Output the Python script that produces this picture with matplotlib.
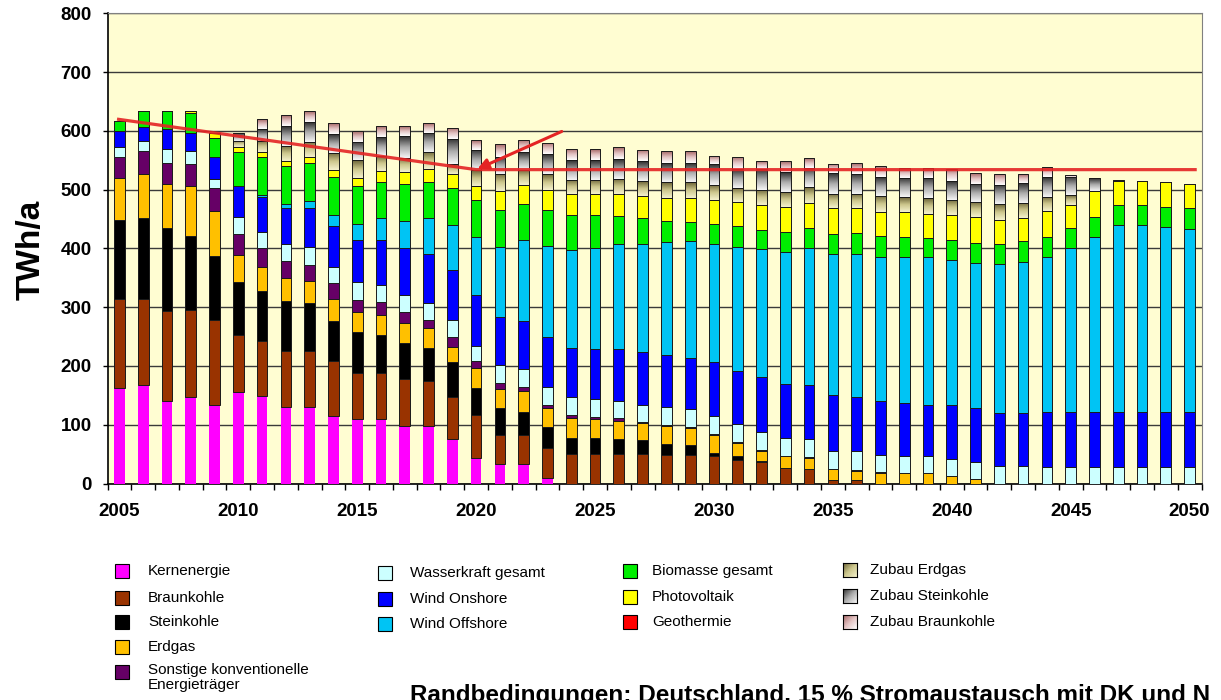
import numpy as np
import matplotlib
matplotlib.use('Agg')
import matplotlib.pyplot as plt
from matplotlib.colors import LinearSegmentedColormap
from matplotlib.patches import Rectangle

plt.rcParams['font.family'] = ['Liberation Sans', 'DejaVu Sans']

W, H = 1221, 700

years = np.arange(2005, 2051)

# TWh/a per year, 2005 .. 2050
kernenergie = [163, 167, 140, 147, 133, 156, 149, 131, 131, 114, 109, 109, 98, 98, 76, 44, 33, 33, 10] + [0] * 27
braunkohle = [151, 147, 154, 148, 145, 97, 94, 95, 94, 94, 79, 79, 79, 76, 72, 73, 50, 50, 51, 51,
              51, 51, 51, 48, 48, 47, 40, 37, 27, 24, 6, 6] + [0] * 14
steinkohle = [134, 138, 140, 126, 109, 90, 85, 85, 82, 69, 69, 65, 62, 56, 58, 46, 45, 39, 35, 27,
              27, 25, 23, 20, 17, 5, 7, 2] + [0] * 18
erdgas = [72, 75, 76, 86, 77, 46, 41, 38, 37, 37, 34, 34, 34, 34, 27, 33, 33, 35, 33, 33,
          31, 30, 29, 30, 29, 31, 22, 16, 19, 20, 18, 15, 18, 18, 18, 13, 8] + [0] * 9
sonstige = [36, 38, 36, 37, 38, 35, 32, 29, 28, 27, 21, 22, 18, 14, 17, 12, 10, 7, 5, 6,
            4, 6, 2, 2, 2, 1, 1, 2, 1, 1, 1, 2, 1] + [0] * 13
wasserkraft = [17, 17, 23, 21, 16, 29, 27, 29, 31, 28, 30, 29, 30, 29, 28, 26, 30, 30, 31, 30,
               31, 29, 29, 30, 31, 30, 32, 30, 30, 30, 30, 32, 29, 28, 28, 28, 29, 29, 29, 28,
               28, 28, 28, 28, 28, 28]
wind_onshore = [27, 24, 34, 32, 38, 54, 59, 62, 65, 69, 73, 76, 79, 84, 85, 87, 83, 82, 85, 84,
                85, 87, 90, 88, 87, 92, 90, 94, 92, 92, 95, 92, 92, 91, 88, 92, 92, 91, 91, 94,
                94, 94, 94, 94, 94, 94]
wind_offshore = [0, 0, 0, 0, 0, 0, 4, 7, 12, 19, 27, 37, 47, 60, 76, 99, 119, 139, 154, 167,
                 172, 179, 184, 193, 199, 201, 210, 218, 225, 234, 240, 244, 246, 248, 251, 247, 247, 253, 257, 264,
                 278, 298, 317, 317, 314, 311]
biomasse = [17, 28, 31, 33, 32, 57, 64, 65, 66, 64, 64, 62, 63, 62, 64, 63, 63, 61, 61, 59,
            56, 48, 43, 36, 32, 35, 36, 32, 34, 34, 34, 35, 35, 34, 32, 35, 33, 34, 35, 34,
            34, 34, 34, 34, 34, 35]
photovoltaik = [0, 0, 0, 4, 8, 8, 9, 7, 9, 13, 14, 18, 20, 22, 24, 24, 32, 32, 35, 35,
                35, 37, 38, 39, 41, 40, 41, 42, 42, 43, 44, 42, 41, 43, 42, 42, 44, 41, 40, 43,
                40, 44, 42, 41, 43, 42]
geothermie = [0] * 46
zubau_erdgas = [0] * 5 + [11, 19, 27, 26, 29, 30, 27, 24, 29, 16, 26, 29, 26, 27, 25,
                          25, 26, 25, 27, 27, 26, 24, 27, 26, 26, 25, 24, 28, 25, 26, 26, 26, 27, 26, 25,
                          17] + [0] * 5
zubau_steinkohle = [0] * 5 + [13, 20, 34, 34, 32, 31, 32, 37, 33, 43, 35, 29, 30, 33, 33,
                              34, 34, 34, 32, 32, 35, 32, 35, 34, 33, 35, 35, 32, 33, 35, 31, 31, 33, 34, 33,
                              31, 21, 2] + [0] * 3
zubau_braunkohle = [0] * 6 + [17, 18, 18, 18, 18, 18, 17, 17, 19, 17, 21, 21, 19, 19,
                              18, 20, 20, 20, 20, 15, 21, 13, 18, 17, 16, 18, 18, 17, 17, 21, 18, 19, 15, 18,
                              3] + [0] * 5

# red guide line and arrow
line_x = [2004.9, 2020.0, 2050.3]
line_y = [620, 534, 534]

red = '#E42424'

grad_olive = LinearSegmentedColormap.from_list('olive', ['#F4F1CC', '#CCC68C', '#6A6236'])
grad_grey = LinearSegmentedColormap.from_list('grey', ['#F6F6F6', '#ABABAB', '#2E2E2E'])
grad_pink = LinearSegmentedColormap.from_list('pink', ['#FFFFFF', '#E2C2C2', '#A46464'])

series = [
    ('Kernenergie', kernenergie, '#FF00FF', None),
    ('Braunkohle', braunkohle, '#993300', None),
    ('Steinkohle', steinkohle, '#000000', None),
    ('Erdgas', erdgas, '#FFC000', None),
    ('Sonstige konventionelle\nEnergieträger', sonstige, '#660066', None),
    ('Wasserkraft gesamt', wasserkraft, '#CCFFFF', None),
    ('Wind Onshore', wind_onshore, '#0000FF', None),
    ('Wind Offshore', wind_offshore, '#00C4F4', None),
    ('Biomasse gesamt', biomasse, '#00EE00', None),
    ('Photovoltaik', photovoltaik, '#FFFF00', None),
    ('Geothermie', geothermie, '#FF0000', None),
    ('Zubau Erdgas', zubau_erdgas, None, grad_olive),
    ('Zubau Steinkohle', zubau_steinkohle, None, grad_grey),
    ('Zubau Braunkohle', zubau_braunkohle, None, grad_pink),
]

fig = plt.figure(figsize=(W / 100, H / 100), dpi=100)
ax = fig.add_axes([107.5 / W, 1 - 483.5 / H, 1094 / W, 470.2 / H])
ax.set_facecolor('#FFFDD2')

vgrad = np.linspace(0, 1, 64).reshape(-1, 1)
bottom = np.zeros(len(years))
for name, vals, color, cmap in series:
    vals = np.array(vals, dtype=float)
    if cmap is None:
        ec = 'none' if name == 'Kernenergie' else '#1a1a1a'
        ax.bar(years, vals, width=0.45, bottom=bottom, color=color,
               edgecolor=ec, linewidth=0.7, zorder=3)
    else:
        bars = ax.bar(years, vals, width=0.45, bottom=bottom, facecolor='none',
                      edgecolor='#1a1a1a', linewidth=0.7, zorder=4)
        for p, v in zip(bars.patches, vals):
            if v <= 0:
                continue
            x0, y0 = p.get_x(), p.get_y()
            im = ax.imshow(vgrad, cmap=cmap, origin='lower', aspect='auto',
                           extent=[x0, x0 + p.get_width(), y0, y0 + p.get_height()],
                           interpolation='bicubic', zorder=3)
            im.set_clip_path(p)
    bottom += vals

ax.plot(line_x, line_y, color=red, lw=2.3, alpha=0.9, zorder=6, solid_capstyle='butt')
ax.annotate('', xy=(2020.05, 535), xytext=(2023.6, 599),
            arrowprops=dict(arrowstyle='-|>', color=red, lw=2.2, mutation_scale=16,
                            shrinkA=0, shrinkB=0), zorder=6)

ax.set_xlim(2004.5, 2050.5)
ax.set_ylim(0, 800)
ax.set_yticks(range(0, 801, 100))
ax.yaxis.grid(True, color='#3a3a3a', linewidth=1.0)
ax.set_axisbelow(True)

ax.set_xticks(range(2005, 2051, 5))
ax.set_xticks(np.arange(2004.5, 2051, 1), minor=True)
ax.tick_params(axis='x', which='major', length=0, pad=14, labelsize=13.5)
ax.tick_params(axis='x', which='minor', length=4, width=1, direction='out')
ax.tick_params(axis='y', length=3.5, width=1, pad=8, labelsize=13.5)
for lab in ax.get_xticklabels() + ax.get_yticklabels():
    lab.set_fontweight('bold')

for side in ['top', 'right']:
    ax.spines[side].set_color('#808080')
for side in ['left', 'bottom']:
    ax.spines[side].set_color('black')
    ax.spines[side].set_linewidth(1.2)

fig.text(31 / W, 1 - 250 / H, 'TWh/a', rotation=90, ha='center', va='center',
         fontsize=24, fontweight='bold')

# legend in four columns below the chart
columns = [
    (115, 33, [571, 598, 622, 647, 672], series[0:5]),
    (378, 32, [573, 599, 624], series[5:8]),
    (623, 29, [571, 597, 622], series[8:11]),
    (843, 27, [570, 596, 622], series[11:14]),
]
dgrad = np.add.outer(np.linspace(0, 1, 32), np.linspace(1, 0, 32)) / 2
sq = 14
for x, off, rows, items in columns:
    for y, (name, vals, color, cmap) in zip(rows, items):
        fx, fy = x / W, 1 - (y + sq / 2) / H
        if cmap is None:
            fig.patches.append(Rectangle((fx, fy), sq / W, sq / H, transform=fig.transFigure,
                                         facecolor=color, edgecolor='black', linewidth=0.8))
        else:
            iax = fig.add_axes([fx, fy, sq / W, sq / H])
            iax.imshow(dgrad, cmap=cmap, aspect='auto', origin='lower')
            iax.set_xticks([])
            iax.set_yticks([])
        if '\n' in name:
            fig.text((x + off) / W, 1 - (y - 9) / H, name, ha='left', va='top', fontsize=11,
                     linespacing=1.1)
        else:
            fig.text((x + off) / W, 1 - y / H, name, ha='left', va='center', fontsize=11)

fig.text(410 / W, 1 - 702 / H, 'Randbedingungen: Deutschland, 15 % Stromaustausch mit DK und N',
         ha='left', va='baseline', fontsize=17.5, fontweight='bold')

fig.savefig('out.png', dpi=100)
